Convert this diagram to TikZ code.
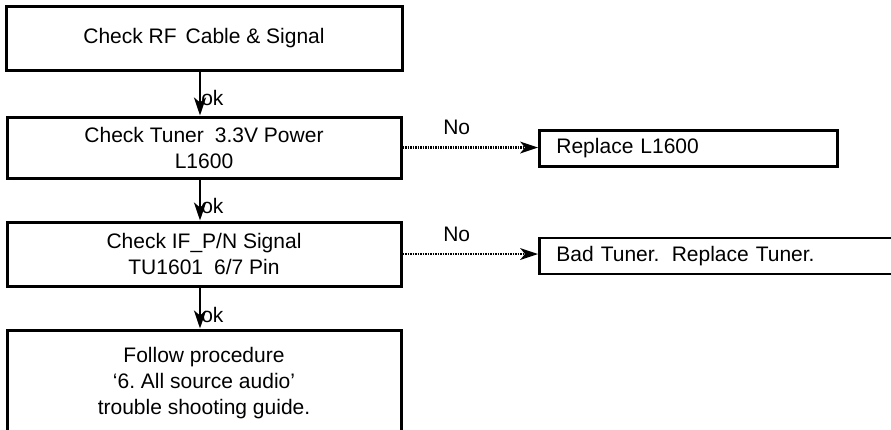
\documentclass[tikz,border=0pt]{standalone}
\usepackage{fontspec}
\setmainfont{Liberation Sans}
\usetikzlibrary{arrows.meta}
\frenchspacing
\begin{document}
\begin{tikzpicture}[x=1pt,y=-1pt,
  box/.style={draw=black, line width=3pt, rectangle, inner sep=0pt, align=center,
    font=\fontsize{21}{26}\selectfont},
  sidebox/.style={draw=black, line width=2.8pt, rectangle, inner ysep=0pt, inner xsep=17pt,
    align=left, anchor=west, minimum height=36pt, font=\fontsize{21}{26}\selectfont},
  flow/.style={line width=2.6pt, -{Stealth[length=18pt,width=12pt,inset=5pt]}},
  nobranch/.style={line width=2.6pt, dash pattern=on 1.6pt off 0.9pt,
    -{Stealth[length=18pt,width=12pt,inset=5pt,line width=0pt]}},
  lbl/.style={font=\fontsize{21}{26}\selectfont, inner sep=0pt}
]
\useasboundingbox (0,0) rectangle (891,429);
\clip (0,0) rectangle (891,429);

\node[box, minimum width=396pt, minimum height=64pt] (b1) at (204,38) {Check RF\hspace{0.15em} Cable \& Signal};
\node[box, minimum width=394pt, minimum height=61pt] (b2) at (204,147.5) {Check Tuner\hspace{0.25em} 3.3V Power\\L1600};
\node[box, minimum width=394pt, minimum height=64pt] (b3) at (204,254) {Check IF\_P/N Signal\\TU1601\hspace{0.25em} 6/7 Pin};
\node[box, minimum width=394pt, minimum height=106pt] (b4) at (204,383) {Follow procedure\\‘6. All source audio’\\trouble shooting guide.};

\node[sidebox, minimum width=298pt, text width=264pt] (r1) at (538,148.5) {Replace L1600};
\node[sidebox, minimum width=400pt, text width=366pt] (r2) at (538,256) {Bad Tuner.\hspace{0.25em} Replace Tuner.};

\draw[flow] ([xshift=-4pt]b1.south) -- ([xshift=-4pt]b2.north)
  node[lbl, pos=0.6, anchor=west, xshift=0pt] {ok};
\draw[flow] ([xshift=-4pt]b2.south) -- ([xshift=-4pt]b3.north)
  node[lbl, pos=0.64, anchor=west, xshift=0pt] {ok};
\draw[flow] ([xshift=-4pt]b3.south) -- ([xshift=-4pt]b4.north)
  node[lbl, pos=0.66, anchor=west, xshift=0pt] {ok};

\draw[nobranch] (b2.east) -- (r1.west |- b2.east)
  node[lbl, pos=0.4, yshift=20pt] {No};
\draw[nobranch] (b3.east) -- (r2.west |- b3.east)
  node[lbl, pos=0.4, yshift=20pt] {No};
\end{tikzpicture}
\end{document}
